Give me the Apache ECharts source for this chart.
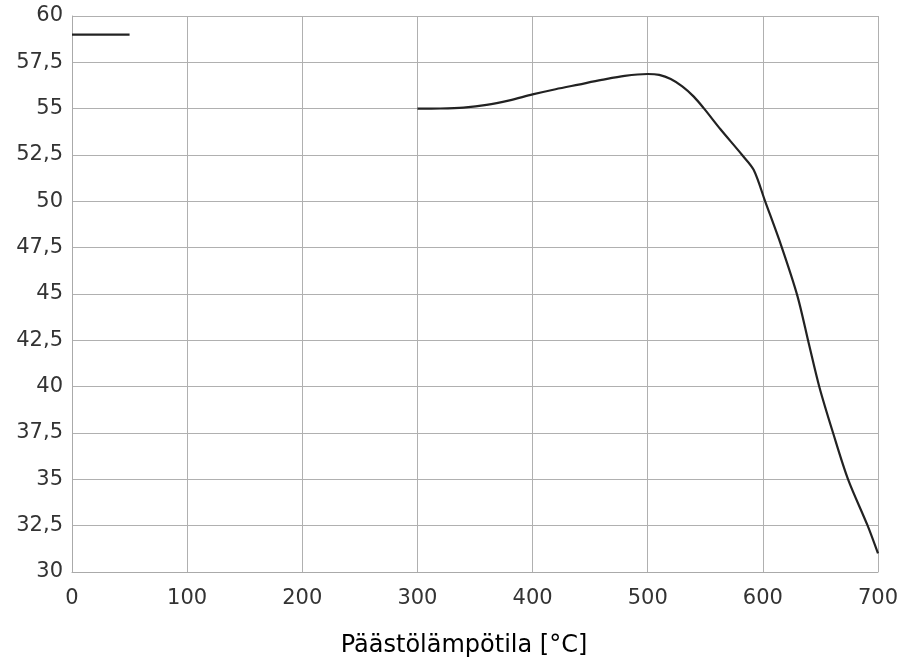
<!DOCTYPE html>
<html><head><meta charset="utf-8">
<script src="https://cdn.jsdelivr.net/npm/echarts@6/dist/echarts.min.js"></script>
<style>html,body{margin:0;padding:0;background:#fff}#c{width:902px;height:664px}</style>
</head><body><div id="c"></div>
<script>
const xAxisTitle = 'Päästölämpötila [°C]';
const shortLineX = [0, 50];
const shortLineY = [59, 59];
const curveX = [300, 320, 340, 360, 380, 400, 420, 440, 460, 480, 500, 510, 520, 530, 540, 549, 563, 582, 592, 602, 616, 630, 640, 649, 661, 674, 691, 700];
const curveY = [55, 55.01, 55.06, 55.2, 55.45, 55.77, 56.05, 56.3, 56.55, 56.77, 56.87, 56.82, 56.6, 56.2, 55.65, 55.0, 53.9, 52.5, 51.7, 50.0, 47.6, 44.9, 42.3, 40.0, 37.5, 35.0, 32.5, 31.0];

const chart = echarts.init(document.getElementById('c'));
chart.setOption({
  backgroundColor: '#fff',
  animation: false,
  grid: {left: 72, right: 24, top: 16, bottom: 92},
  xAxis: {
    type: 'value', min: 0, max: 700, interval: 100,
    name: xAxisTitle, nameLocation: 'middle', nameGap: 62,
    nameTextStyle: {fontFamily: 'DejaVu Sans', fontSize: 24, color: '#000', padding: [0, 22, 0, 0]},
    axisLine: {lineStyle: {color: '#aaa'}},
    axisTick: {show: false},
    axisLabel: {fontFamily: 'DejaVu Sans', fontSize: 21, color: '#333', margin: 16},
    splitLine: {lineStyle: {color: '#b0b0b0', width: 1}}
  },
  yAxis: {
    type: 'value', min: 30, max: 60, interval: 2.5,
    axisLine: {show: true, lineStyle: {color: '#aaa'}},
    axisTick: {show: false},
    axisLabel: {fontFamily: 'DejaVu Sans', fontSize: 21, color: '#333', margin: 9,
      formatter: v => String(v).replace('.', ',')},
    splitLine: {lineStyle: {color: '#b0b0b0', width: 1}}
  },
  series: [
    {type: 'line', data: shortLineX.map((x, i) => [x, shortLineY[i]]), showSymbol: false,
     lineStyle: {color: '#222', width: 2.2}},
    {type: 'line', data: curveX.map((x, i) => [x, curveY[i]]), showSymbol: false, smooth: 0.3,
     lineStyle: {color: '#222', width: 2.2}}
  ]
});
</script></body></html>
